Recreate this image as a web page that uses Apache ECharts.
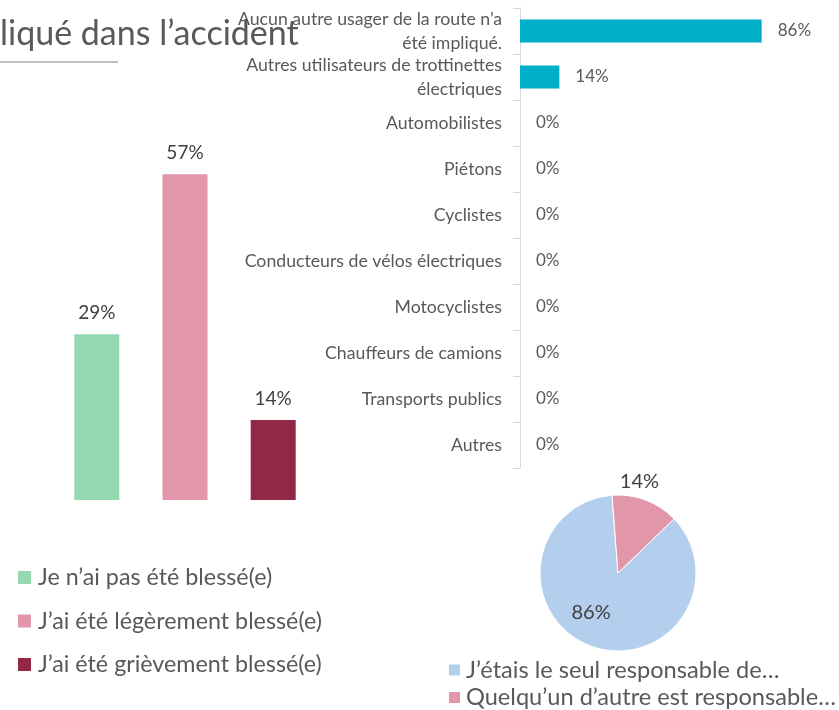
<!DOCTYPE html>
<html>
<head>
<meta charset="utf-8">
<script src="https://cdn.jsdelivr.net/npm/echarts@6/dist/echarts.min.js"></script>
<style>
  html, body { margin: 0; padding: 0; background: #fff; }
  #main { width: 839px; height: 710px; }
</style>
</head>
<body>
<div id="main"></div>
<script>
// blessures (gauche)
const injuryNames = ['Je n’ai pas été blessé(e)', 'J’ai été légèrement blessé(e)', 'J’ai été grièvement blessé(e)'];
const injuryValues = [29, 57, 14];
const injuryColors = ['#95d9b3', '#e196aa', '#922845'];

// autres usagers impliqués (droite)
const userCats = [
  'Aucun autre usager de la route n’a\nété impliqué.',
  'Autres utilisateurs de trottinettes\nélectriques',
  'Automobilistes',
  'Piétons',
  'Cyclistes',
  'Conducteurs de vélos électriques',
  'Motocyclistes',
  'Chauffeurs de camions',
  'Transports publics',
  'Autres'
];
const userValues = [86, 14, 0, 0, 0, 0, 0, 0, 0, 0];

// responsabilité (camembert)
const respNames = ['J’étais le seul responsable de…', 'Quelqu’un d’autre est responsable…'];
const respValues = [86, 14];
const respColors = ['#b4cfed', '#e196aa'];

const font = 'Lato';
const grey = '#595959';

const chart = echarts.init(document.getElementById('main'), null, {renderer: 'canvas'});

const barSeries = injuryNames.map((name, i) => ({
  name,
  type: 'bar',
  xAxisIndex: 0,
  yAxisIndex: 0,
  barWidth: 45,
  barGap: '96%',
  itemStyle: {color: injuryColors[i]},
  label: {
    show: true, position: 'top', distance: 12,
    formatter: '{c}%', fontFamily: font, fontSize: 19, color: '#404040'
  },
  data: [injuryValues[i]]
}));

const option = {
  animation: false,
  textStyle: {fontFamily: font},
  title: {
    text: 'liqué dans l’accident',
    left: 0, top: 17, padding: 0,
    textStyle: {fontFamily: font, fontSize: 34, fontWeight: 'normal', color: grey}
  },
  graphic: [{
    type: 'line',
    shape: {x1: 0, y1: 62, x2: 118, y2: 62},
    style: {stroke: '#7f7f7f', lineWidth: 1}
  }],
  legend: [{
    data: injuryNames,
    orient: 'vertical',
    left: 18, top: 566, padding: 0,
    itemWidth: 13, itemHeight: 13, itemGap: 20.5,
    icon: 'rect',
    textStyle: {fontFamily: font, fontSize: 23.3, color: grey, padding: [0, 0, 0, 2]}
  }, {
    data: respNames,
    orient: 'vertical',
    left: 447, top: 658, padding: 0,
    itemWidth: 13, itemHeight: 13, itemGap: 3.5,
    icon: 'rect',
    textStyle: {fontFamily: font, fontSize: 23.6, color: grey}
  }],
  grid: [
    {left: 30, width: 310, top: 157, height: 343},
    {left: 520, width: 281, top: 8, height: 460}
  ],
  xAxis: [
    {type: 'category', gridIndex: 0, data: [''], show: false},
    {type: 'value', gridIndex: 1, min: 0, max: 100, show: false}
  ],
  yAxis: [
    {type: 'value', gridIndex: 0, min: 0, max: 60, show: false},
    {
      type: 'category', gridIndex: 1, data: userCats, inverse: true,
      axisLine: {show: true, lineStyle: {color: '#d9d9d9'}},
      axisTick: {show: true, length: 7, lineStyle: {color: '#d9d9d9'}},
      axisLabel: {
        interval: 0, hideOverlap: false,
        fontFamily: font, fontSize: 17.7, color: grey, margin: 18,
        lineHeight: 24, align: 'right'
      }
    }
  ],
  series: barSeries.concat([{
    name: 'usagers',
    type: 'bar',
    xAxisIndex: 1,
    yAxisIndex: 1,
    barWidth: 23,
    itemStyle: {color: '#00aec7'},
    label: {
      show: true, position: 'right', distance: 16,
      formatter: '{c}%', fontFamily: font, fontSize: 17, color: grey
    },
    data: userValues
  }, {
    name: 'responsabilité',
    type: 'pie',
    center: [618, 573],
    radius: 78,
    startAngle: 44,
    itemStyle: {borderColor: '#fff', borderWidth: 1},
    label: {
      show: true, position: 'inside',
      formatter: '{c}%', fontFamily: font, fontSize: 20, color: '#404040'
    },
    labelLine: {show: false},
    data: respNames.map((name, i) => {
      const d = {name, value: respValues[i], itemStyle: {color: respColors[i]}};
      if (i === 0) {
        d.label = {position: 'inside', offset: [-12, 0]};
      } else {
        d.label = {position: 'outside', distanceToLabelLine: -33};
        d.labelLine = {show: false, length: 20, length2: 0};
      }
      return d;
    })
  }])
};

chart.setOption(option);
</script>
</body>
</html>
